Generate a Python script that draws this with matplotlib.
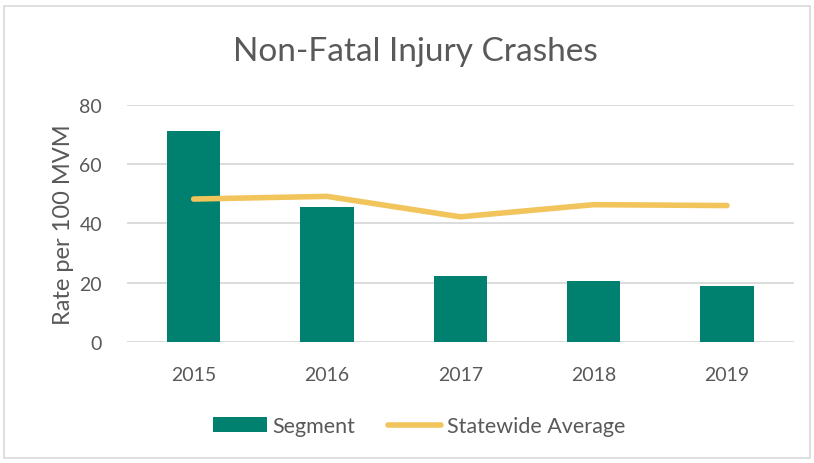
import matplotlib.pyplot as plt
from matplotlib.patches import Rectangle

years = ['2015', '2016', '2017', '2018', '2019']
segment = [71.3, 45.6, 22.3, 20.6, 19.0]
statewide = [48.2, 49.1, 42.2, 46.3, 46.0]

teal = '#00806F'
gold = '#F2C45C'
grey = '#595959'

plt.rcParams['font.family'] = ['Lato', 'DejaVu Sans']

fig = plt.figure(figsize=(8.14, 4.64), dpi=100)
ax = fig.add_axes([0.156, 0.261, 0.819, 0.511])

x = range(len(years))
bars = ax.bar(x, segment, width=0.40, color=teal, label='Segment', zorder=2)
line, = ax.plot(x, statewide, color=gold, lw=4, solid_capstyle='round',
                label='Statewide Average', zorder=3)

ax.set_xlim(-0.5, len(years) - 0.5)
ax.set_ylim(0, 80)
ax.set_yticks([0, 20, 40, 60, 80])
ax.set_xticks(list(x))
ax.set_xticklabels(years)
ax.tick_params(length=0, labelsize=14, colors=grey)
ax.tick_params(axis='x', pad=17)
ax.tick_params(axis='y', pad=18)
ax.grid(axis='y', color='#D9D9D9', lw=1.3, zorder=0)
for s in ax.spines.values():
    s.set_visible(False)
ax.set_ylabel('Rate per 100 MVM', fontsize=17, color=grey, labelpad=4)

fig.text(0.51, 0.888, 'Non-Fatal Injury Crashes', ha='center', va='center',
         fontsize=24, color=grey)

fig.legend([bars, line], ['Segment', 'Statewide Average'], loc='center',
           bbox_to_anchor=(0.515, 0.08), ncol=2, frameon=False,
           fontsize=15.5, labelcolor=grey, handlelength=2.5, handleheight=0.65,
           columnspacing=1.5, handletextpad=0.25)

# chart border
fig.patches.append(Rectangle((0.005, 0.01), 0.99, 0.975, transform=fig.transFigure,
                             fill=False, edgecolor='#D9D9D9', lw=1.2))

fig.savefig('out.png', dpi=100)
